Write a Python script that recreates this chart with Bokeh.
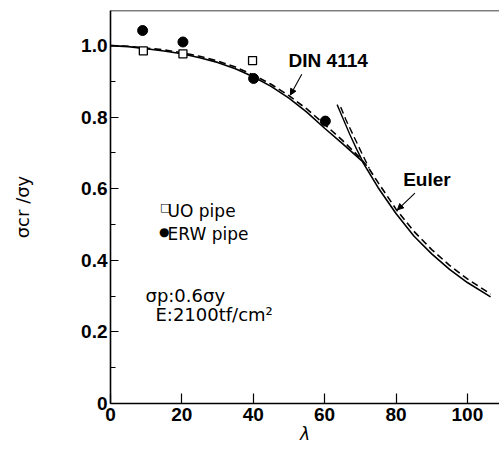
from bokeh.plotting import figure
from bokeh.models import Range1d, FixedTicker, Label, Arrow, NormalHead, Span
from bokeh.embed import file_html
from bokeh.resources import INLINE

# ---- data ----
# main curve (solid): test-based curve, merging into Euler
lam_main = [0, 5, 10, 15, 20, 25, 30, 35, 40, 45, 50, 55, 60, 65, 70.5, 75, 80, 85, 90, 95, 100, 106.5]
sig_main = [1.0, 0.997, 0.991, 0.985, 0.977, 0.966, 0.953, 0.935, 0.913, 0.886, 0.853, 0.814,
            0.769, 0.726, 0.677, 0.603, 0.531, 0.468, 0.418, 0.375, 0.338, 0.298]
# upper Euler branch (solid)
lam_euler_s = [63.5, 65, 67, 69, 70.5]
sig_euler_s = [0.835, 0.8, 0.753, 0.71, 0.68]
# DIN 4114 curve (dashed)
lam_din = [0, 5, 10, 15, 20, 25, 30, 35, 40, 45, 50, 55, 60, 65, 70, 72.5, 75, 80, 85, 90, 95, 100, 106.5]
sig_din = [1.0, 0.998, 0.993, 0.988, 0.98, 0.97, 0.957, 0.94, 0.918, 0.892, 0.86, 0.823,
           0.78, 0.735, 0.686, 0.655, 0.617, 0.543, 0.481, 0.43, 0.386, 0.348, 0.306]
# upper Euler branch (dashed)
lam_euler_d = [64.5, 66, 68, 70, 72.5]
sig_euler_d = [0.828, 0.792, 0.75, 0.708, 0.657]
# test points
uo_lam = [9.2, 20.3, 39.8]
uo_sig = [0.985, 0.977, 0.958]
erw_lam = [9.0, 20.3, 40.1, 60.2]
erw_sig = [1.042, 1.01, 0.908, 0.789]

x_ticks = [0, 20, 40, 60, 80, 100]
y_ticks = [0, 0.2, 0.4, 0.6, 0.8, 1.0]
y_tick_labels = ["0", "0.2", "0.4", "0.6", "0.8", "1.0"]
y_minor = [0.1, 0.3, 0.5, 0.7, 0.9]

p = figure(width=499, height=452, output_backend="svg", toolbar_location=None,
           x_range=Range1d(0, 109), y_range=Range1d(0, 1.098),
           min_border_left=110, min_border_right=0, min_border_top=10, min_border_bottom=49)
p.outline_line_color = None
p.grid.visible = False
p.background_fill_color = "white"

# axes styling
for ax in (p.xaxis[0], p.yaxis[0]):
    ax.axis_line_color = "black"
    ax.axis_line_width = 1.6
    ax.major_tick_line_color = "black"
    ax.major_tick_line_width = 1.2
    ax.major_tick_out = 0
    ax.minor_tick_out = 0
    ax.major_label_text_font = "Liberation Sans"
    ax.major_label_text_font_style = "bold"
    ax.major_label_text_font_size = "19px"
    ax.major_label_text_color = "black"
    ax.axis_label_text_color = "black"

p.xaxis.ticker = FixedTicker(ticks=x_ticks)
p.xaxis.major_tick_in = 10
p.xaxis.minor_tick_line_color = None
p.xaxis.major_label_standoff = 4
p.xaxis.axis_label = "λ"
p.xaxis.axis_label_text_font = "DejaVu Sans"
p.xaxis.axis_label_text_font_style = "italic"
p.xaxis.axis_label_text_font_size = "17px"
p.xaxis.axis_label_standoff = 0

p.yaxis.ticker = FixedTicker(ticks=y_ticks, minor_ticks=y_minor)
p.yaxis.major_label_overrides = dict(zip(y_ticks, y_tick_labels))
p.yaxis.major_tick_in = 8
p.yaxis.minor_tick_in = 5
p.yaxis.minor_tick_line_color = "black"
p.yaxis.minor_tick_line_width = 1.2
p.yaxis.major_label_standoff = 3
p.yaxis.axis_label = "σcr /σy"
p.yaxis.axis_label_text_font = "DejaVu Sans"
p.yaxis.axis_label_text_font_style = "normal"
p.yaxis.axis_label_text_font_size = "18px"
p.yaxis.axis_label_standoff = 45

# top frame line
p.add_layout(Span(location=1.098, dimension="width", line_color="black", line_width=1.6))

# curves
p.line(lam_main, sig_main, line_color="black", line_width=1.6)
p.line(lam_euler_s, sig_euler_s, line_color="black", line_width=1.4)
p.line(lam_din, sig_din, line_color="black", line_width=1.6, line_dash="7 4")
p.line(lam_euler_d, sig_euler_d, line_color="black", line_width=1.4, line_dash="7 4")

# points
p.scatter(uo_lam, uo_sig, marker="square", size=8, fill_color="white", line_color="black", line_width=1.3)
p.scatter(erw_lam, erw_sig, marker="circle", size=10, fill_color="black", line_color="black")

# annotations
p.add_layout(Label(x=49.9, y=0.958, text="DIN 4114", text_font="Liberation Sans", text_font_style="bold",
                   text_font_size="19px", text_color="black", text_baseline="alphabetic"))
p.add_layout(Arrow(end=NormalHead(size=6, fill_color="black", line_color="black"),
                   x_start=53.6, y_start=0.92, x_end=50.4, y_end=0.862, line_width=1.1, line_color="black"))
p.add_layout(Label(x=82.0, y=0.625, text="Euler", text_font="Liberation Sans", text_font_style="bold",
                   text_font_size="19px", text_color="black", text_baseline="alphabetic"))
p.add_layout(Arrow(end=NormalHead(size=6, fill_color="black", line_color="black"),
                   x_start=85.3, y_start=0.588, x_end=80.4, y_end=0.541, line_width=1.1, line_color="black"))

# legend (symbols as text)
p.add_layout(Label(x=13.9, y=0.548, text="□", text_font="DejaVu Sans",
                   text_font_size="11px", text_color="black", text_baseline="alphabetic"))
p.add_layout(Label(x=16.0, y=0.537, text="UO pipe", text_font="DejaVu Sans",
                   text_font_size="17px", text_color="black", text_baseline="alphabetic"))
p.add_layout(Label(x=13.6, y=0.479, text="●", text_font="DejaVu Sans",
                   text_font_size="12px", text_color="black", text_baseline="alphabetic"))
p.add_layout(Label(x=16.0, y=0.473, text="ERW pipe", text_font="DejaVu Sans",
                   text_font_size="17px", text_color="black", text_baseline="alphabetic"))
p.add_layout(Label(x=9.8, y=0.301, text="σp:0.6σy", text_font="DejaVu Sans",
                   text_font_size="18px", text_color="black", text_baseline="alphabetic"))
p.add_layout(Label(x=12.6, y=0.25, text="E:2100tf/cm²", text_font="DejaVu Sans",
                   text_font_size="18px", text_color="black", text_baseline="alphabetic"))

open("out.html", "w").write(file_html(p, INLINE))
